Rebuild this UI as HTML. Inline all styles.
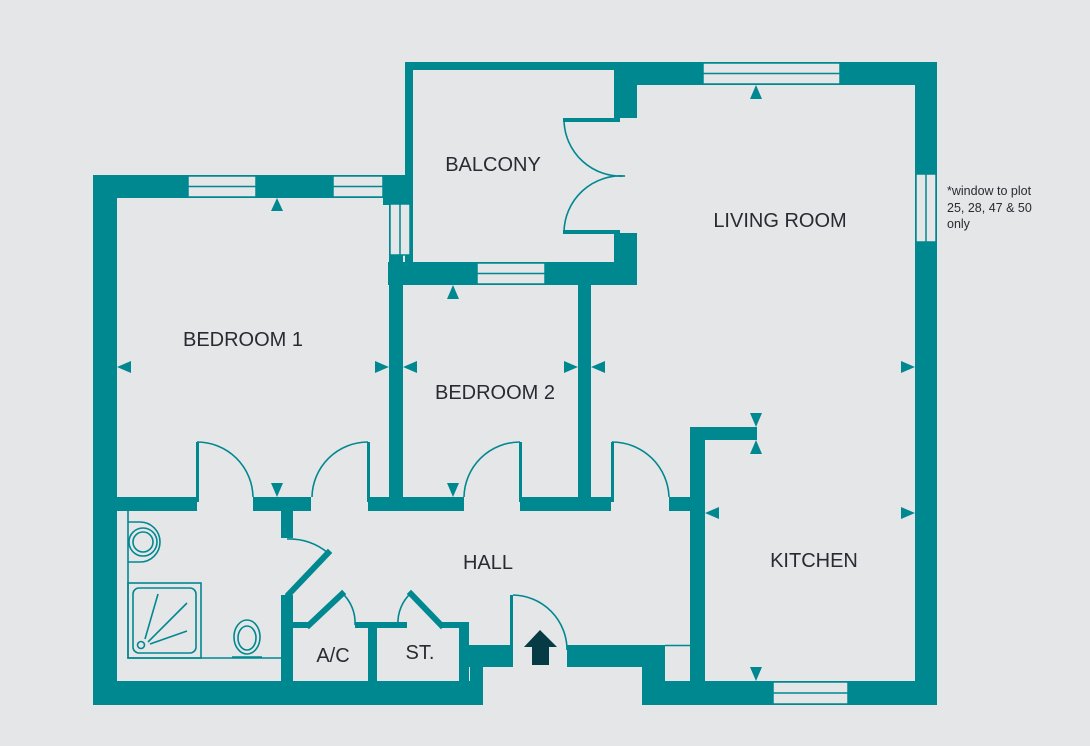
<!DOCTYPE html>
<html><head><meta charset="utf-8"><style>
html,body{margin:0;padding:0;background:#e5e6e8;}
svg{display:block}
text{font-family:"Liberation Sans",sans-serif;fill:#2a2a33;}
</style></head><body>
<svg width="1090" height="746" viewBox="0 0 1090 746" xmlns="http://www.w3.org/2000/svg">
<rect width="1090" height="746" fill="#e5e6e8"/>
<g fill="#008891">
<rect x="93" y="175" width="24" height="530"/>
<rect x="93" y="175" width="315" height="23"/>
<rect x="93" y="681" width="390" height="24"/>
<rect x="642" y="681" width="295" height="24"/>
<rect x="915" y="62" width="22" height="643"/>
<rect x="614" y="62" width="323" height="23"/>
<rect x="614" y="62" width="23" height="56"/>
<rect x="405" y="62" width="215" height="8"/>
<rect x="405" y="62" width="8" height="205"/>
<rect x="614" y="233" width="23" height="52"/>
<rect x="388" y="262" width="249" height="23"/>
<rect x="389" y="198" width="14" height="299"/>
<rect x="383" y="175" width="25" height="30"/>
<rect x="578" y="285" width="13" height="215"/>
<rect x="563" y="118" width="57" height="4"/>
<rect x="563" y="230" width="57" height="4"/>
<rect x="93" y="497" width="104" height="14"/>
<rect x="253" y="497" width="58" height="14"/>
<rect x="368" y="497" width="96" height="14"/>
<rect x="520" y="497" width="91" height="14"/>
<rect x="669" y="497" width="36" height="14"/>
<rect x="196" y="442" width="3" height="60"/>
<rect x="367" y="442" width="3" height="60"/>
<rect x="519" y="442" width="3" height="60"/>
<rect x="611" y="442" width="3" height="60"/>
<rect x="281" y="511" width="12" height="27"/>
<rect x="281" y="595" width="12" height="110"/>
<rect x="293" y="622" width="16" height="6"/>
<rect x="355" y="622" width="52" height="6"/>
<rect x="440" y="622" width="28" height="6"/>
<rect x="368" y="622" width="9" height="61"/>
<rect x="459" y="622" width="10" height="61"/>
<rect x="459" y="645" width="51" height="22"/>
<rect x="470" y="667" width="13" height="16"/>
<rect x="567" y="645" width="98" height="22"/>
<rect x="642" y="645" width="23" height="40"/>
<rect x="510" y="595" width="3" height="72"/>
<rect x="690" y="427" width="15" height="278"/>
<rect x="690" y="427" width="67" height="13"/>
</g>
<g fill="#e5e6e8" stroke="#008891" stroke-width="1.5">
<rect x="188" y="176" width="68" height="21"/><line x1="188" y1="186.5" x2="256" y2="186.5"/>
<rect x="333" y="176" width="50" height="21"/><line x1="333" y1="186.5" x2="383" y2="186.5"/>
<rect x="390" y="204" width="20" height="51"/><line x1="400" y1="204" x2="400" y2="255"/>
<rect x="477" y="263" width="68" height="21"/><line x1="477" y1="273.5" x2="545" y2="273.5"/>
<rect x="703" y="63" width="137" height="21"/><line x1="703" y1="73.5" x2="840" y2="73.5"/>
<rect x="916" y="174" width="20" height="68"/><line x1="926" y1="174" x2="926" y2="242"/>
<rect x="773" y="682" width="75" height="22"/><line x1="773" y1="693" x2="848" y2="693"/>
</g>
<g fill="none" stroke="#008891" stroke-width="1.6">
<path d="M564 120 A57 57 0 0 0 625 176 A57 57 0 0 0 564 232"/>
<path d="M197 442 A56 56 0 0 1 253 497"/>
<path d="M368 442 A56 56 0 0 0 312 497"/>
<path d="M520 442 A56 56 0 0 0 464 497"/>
<path d="M612 442 A57 57 0 0 1 669 497"/>
<path d="M287 539 A60 60 0 0 1 328 553"/>
<path d="M513 595 A55 55 0 0 1 567 650"/>
<path d="M342 593 A40 40 0 0 1 355 625"/>
<path d="M411 593 A40 40 0 0 0 398 625"/>
<line x1="665" y1="645.5" x2="690" y2="645.5"/>
<polyline points="128,511 128,658 281,658"/>
<rect x="128" y="583" width="73" height="75"/>
<rect x="133" y="588" width="63" height="65" rx="6"/>
<circle cx="141" cy="645" r="3.5"/>
<line x1="145" y1="639" x2="158" y2="594"/><line x1="148" y1="642" x2="187" y2="603"/><line x1="150" y1="644" x2="187" y2="631"/>
<path d="M128 522 H140 A20 20 0 0 1 140 562 H128"/>
<circle cx="143" cy="542" r="14"/><circle cx="143" cy="542" r="10"/>
<ellipse cx="247" cy="637" rx="13" ry="17"/><ellipse cx="247" cy="638" rx="9" ry="12"/>
<line x1="232" y1="657" x2="262" y2="657"/>
</g>
<g stroke="#008891" stroke-width="6" fill="none" stroke-linecap="square">
<line x1="328" y1="553" x2="289" y2="594"/>
<polyline points="309,625 342,594"/>
<polyline points="411,594 441,625"/>
</g>
<g fill="#008891">
<polygon points="271,211 283,211 277,198"/>
<polygon points="447,299 459,299 453,285"/>
<polygon points="750,99 762,99 756,85"/>
<polygon points="117,367 131,361 131,373"/>
<polygon points="389,367 375,361 375,373"/>
<polygon points="403,367 417,361 417,373"/>
<polygon points="578,367 564,361 564,373"/>
<polygon points="591,367 605,361 605,373"/>
<polygon points="915,367 901,361 901,373"/>
<polygon points="271,483 283,483 277,497"/>
<polygon points="447,483 459,483 453,497"/>
<polygon points="750,413 762,413 756,427"/>
<polygon points="750,454 762,454 756,440"/>
<polygon points="705,513 719,507 719,519"/>
<polygon points="915,513 901,507 901,519"/>
<polygon points="750,667 762,667 756,681"/>
</g>
<polygon points="540,630 557,647 549,647 549,665 532,665 532,647 524,647" fill="#063a45"/>
<g font-size="20" text-anchor="middle">
<text x="493" y="171">BALCONY</text>
<text x="780" y="227">LIVING ROOM</text>
<text x="243" y="346">BEDROOM 1</text>
<text x="495" y="399">BEDROOM 2</text>
<text x="488" y="569">HALL</text>
<text x="814" y="567">KITCHEN</text>
<text x="333" y="662">A/C</text>
<text x="420" y="659">ST.</text>
</g>
<g font-size="12.5" style="fill:#444">
<text x="947" y="195">*window to plot</text>
<text x="947" y="212">25, 28, 47 &amp; 50</text>
<text x="947" y="228">only</text>
</g>
</svg>
</body></html>
